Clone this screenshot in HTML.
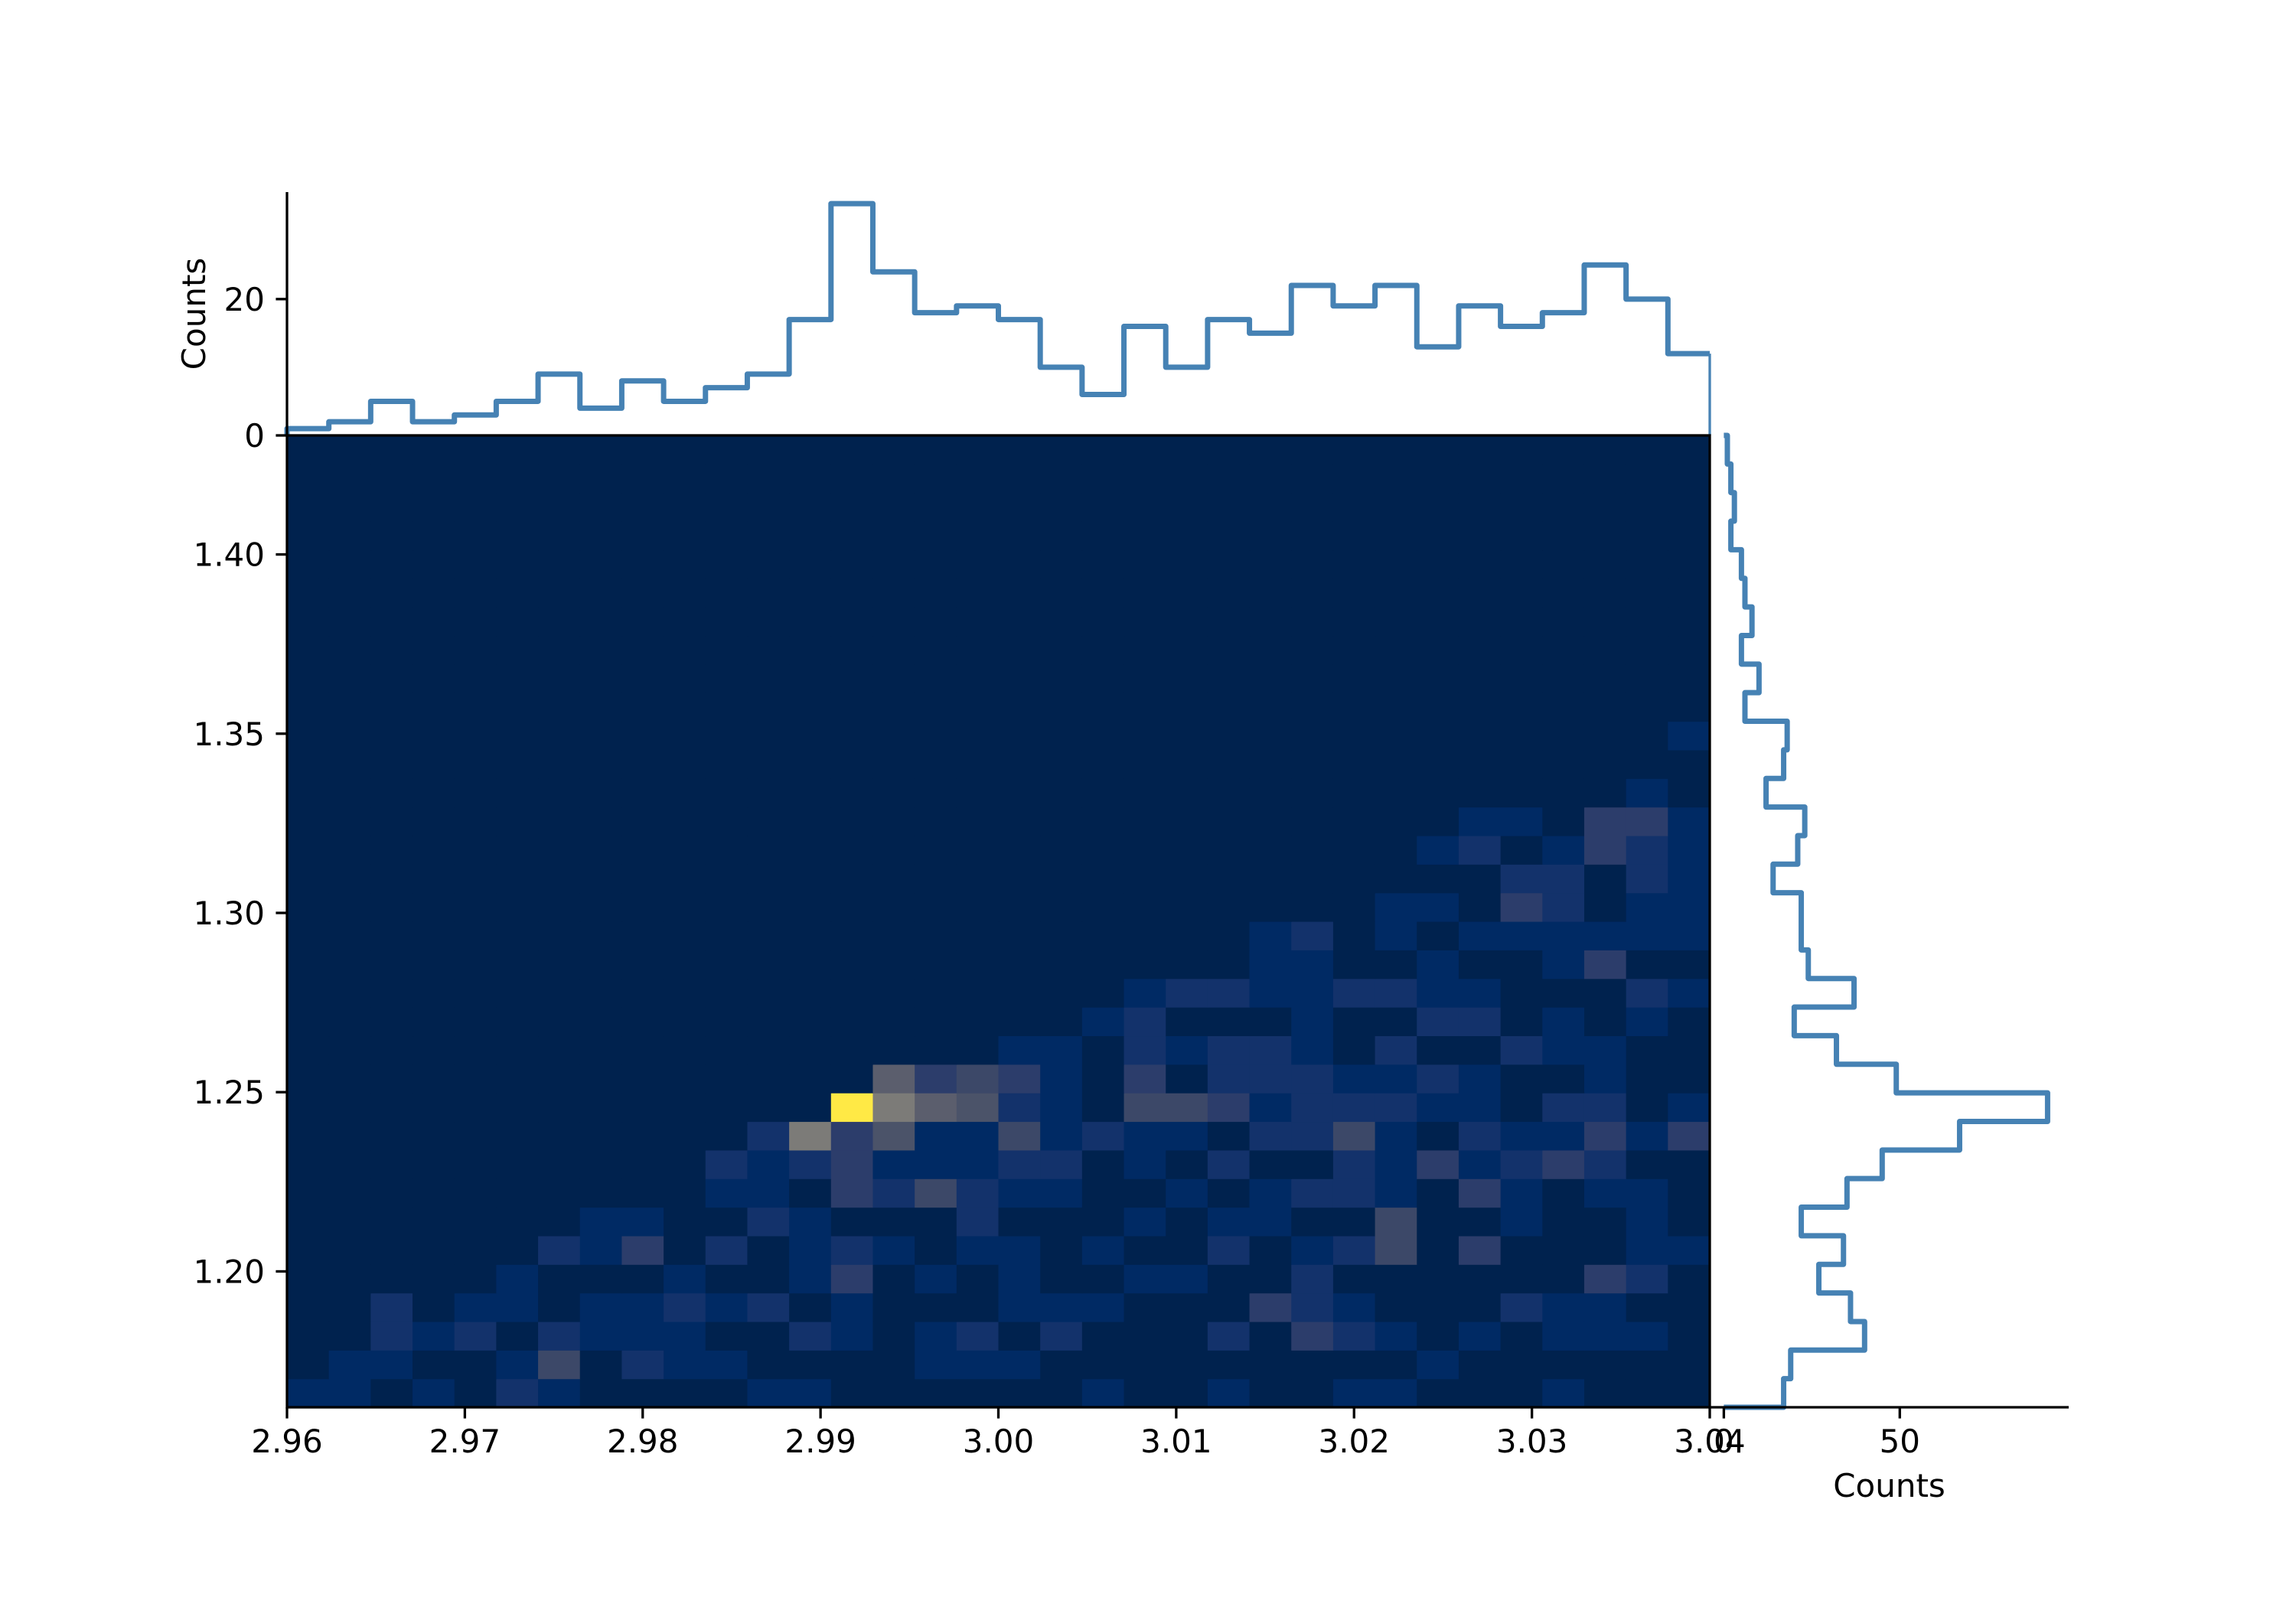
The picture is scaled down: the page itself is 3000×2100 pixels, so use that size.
<!DOCTYPE html>
<html><head><meta charset="utf-8"><style>
html,body{margin:0;padding:0;background:#fff;}
svg{display:block;font-family:"DejaVu Sans","Liberation Sans",sans-serif;}
</style></head><body>
<svg id="chart" width="3000" height="2100" viewBox="0 0 3000 2100" xmlns="http://www.w3.org/2000/svg">
<rect width="3000" height="2100" fill="#fff"/>
<g id="heat"></g>
<g id="axes"></g>
</svg>
<script>
// ---- data ----
const xTickLabels = ["2.96","2.97","2.98","2.99","3.00","3.01","3.02","3.03","3.04"];
const yTickLabels = ["1.20","1.25","1.30","1.35","1.40"];
const topCounts = [1,2,5,2,3,5,9,4,8,5,7,9,17,34,24,18,19,17,10,6,16,10,17,15,22,19,22,13,19,16,18,25,20,12];
const rightCounts = [17,19,40,36,27,34,22,35,45,67,92,49,32,20,37,24,22,22,14,21,23,12,17,18,6,10,5,8,6,5,2,3,2,1];
const heatRows = [
"1101021000011000000100100110001000",
"0110014021100001110000000001000000",
"0021202111002101202000203210101110",
"0020110112120100011100032100021100",
"0000010001001301010011002000000320",
"0000002130201210110100201240300011",
"0000000110021000200010110040010010",
"0000000000110324211001012210310110",
"0000000000212311122010200213123200",
"0000000000027351141211022410211313",
"0000000000000976521044312221102201",
"0000000000000063431030222112100100",
"0000000000000000011021221020021100",
"0000000000000000000120001002201010",
"0000000000000000000012211221100021",
"0000000000000000000000011001001300",
"0000000000000000000000012010111111",
"0000000000000000000000000011032011",
"0000000000000000000000000000022021",
"0000000000000000000000000001201321",
"0000000000000000000000000000110331",
"0000000000000000000000000000000010",
"0000000000000000000000000000000000",
"0000000000000000000000000000000001",
"0000000000000000000000000000000000",
"0000000000000000000000000000000000",
"0000000000000000000000000000000000",
"0000000000000000000000000000000000",
"0000000000000000000000000000000000",
"0000000000000000000000000000000000",
"0000000000000000000000000000000000",
"0000000000000000000000000000000000",
"0000000000000000000000000000000000",
"0000000000000000000000000000000000"
];
const levelColors = ["#00224e","#002a64","#13326b","#2c3d6b","#3c4868","#4b5369","#5b5e6d","#7c7b78","#b0a860","#ffe945"];

// ---- geometry ----
const L=375, R=2234, T=569, B=1839;
const xMin=2.96, xMax=3.04, yMin=1.1621, yMax=1.4332;
const sx = v => L + (v-xMin)/(xMax-xMin)*(R-L);
const sy = v => B - (v-yMin)/(yMax-yMin)*(B-T);
const topTop=251, topMax=35.7;
const sTop = c => T - c/topMax*(T-topTop);
const rR=2703, rMin=-4.0, rMax=98.0;
const sRight = c => R + (c-rMin)/(rMax-rMin)*(rR-R);
const NS="http://www.w3.org/2000/svg";
function mk(tag, attrs, parent){const e=document.createElementNS(NS,tag);for(const k in attrs)e.setAttribute(k,attrs[k]);parent.appendChild(e);return e;}
const heat=document.getElementById('heat'), axes=document.getElementById('axes');
const nCols=heatRows[0].length, nRows=heatRows.length;
const cw=(R-L)/nCols, ch=(B-T)/nRows;
heatRows.forEach((row,r)=>{
  for(let c=0;c<nCols;c++){
    const v=+row[c];
    const cell=mk('rect',{x:(L+c*cw).toFixed(2),y:(B-(r+1)*ch).toFixed(2),width:(cw+0.6).toFixed(2),height:(ch+0.6).toFixed(2),fill:levelColors[Math.min(v,levelColors.length-1)]},heat);
    
    
  }
});
// top histogram
const tw=(R-L)/topCounts.length;
let d=`M${L},${T}`;
topCounts.forEach((c,i)=>{d+=` L${L+i*tw},${sTop(c)} L${L+(i+1)*tw},${sTop(c)}`;});
const th=mk('path',{d:d,fill:'none',stroke:'#4682b4','stroke-width':7,'stroke-linejoin':'round'},axes);


const thEnd=mk('line',{x1:R,y1:sTop(topCounts[topCounts.length-1]),x2:R,y2:T,stroke:'#4682b4','stroke-width':3.3},axes);


// right histogram
const rh=(B-T)/rightCounts.length;
let d2=`M${sRight(0)},${B}`;
rightCounts.forEach((c,i)=>{d2+=` L${sRight(c)},${B-i*rh} L${sRight(c)},${B-(i+1)*rh}`;});
d2+=` L${sRight(0)},${T}`;
const rhp=mk('path',{d:d2,fill:'none',stroke:'#4682b4','stroke-width':7,'stroke-linejoin':'round'},axes);


// spines
const sp=mk('rect',{x:L,y:T,width:R-L,height:B-T,fill:'none',stroke:'#000','stroke-width':3.3},axes);


const tsp=mk('line',{x1:L,y1:topTop,x2:L,y2:T,stroke:'#000','stroke-width':3.3},axes);


const rsp=mk('line',{x1:R,y1:B,x2:rR,y2:B,stroke:'#000','stroke-width':3.3},axes);


// x ticks
xTickLabels.forEach(t=>{
  const x=sx(+t);
  const tk=mk('line',{x1:x,y1:B,x2:x,y2:B+14.6,stroke:'#000','stroke-width':3.3},axes);
  
  
  const tx=mk('text',{x:x,y:1898,'font-size':42,'text-anchor':'middle'},axes);tx.textContent=t;
  
  
});
yTickLabels.forEach(t=>{
  const y=sy(+t);
  const tk=mk('line',{x1:L-14.6,y1:y,x2:L,y2:y,stroke:'#000','stroke-width':3.3},axes);
  
  
  const tx=mk('text',{x:346,y:y+15,'font-size':42,'text-anchor':'end'},axes);tx.textContent=t;
  
  
});
const topTicks=["0","20"];
topTicks.forEach(t=>{
  const y=sTop(+t);
  const tk=mk('line',{x1:L-14.6,y1:y,x2:L,y2:y,stroke:'#000','stroke-width':3.3},axes);
  
  
  const tx=mk('text',{x:346,y:y+15,'font-size':42,'text-anchor':'end'},axes);tx.textContent=t;
  
  
});
const rightTicks=["0","50"];
rightTicks.forEach(t=>{
  const x=sRight(+t);
  const tk=mk('line',{x1:x,y1:B,x2:x,y2:B+14.6,stroke:'#000','stroke-width':3.3},axes);
  
  
  const tx=mk('text',{x:x,y:1898,'font-size':42,'text-anchor':'middle'},axes);tx.textContent=t;
  
  
});
const yl=mk('text',{x:0,y:0,'font-size':42,'text-anchor':'middle',transform:`translate(268,${(topTop+T)/2}) rotate(-90)`},axes);
yl.textContent='Counts';


const xl=mk('text',{x:(R+rR)/2,y:1956,'font-size':42,'text-anchor':'middle'},axes);
xl.textContent='Counts';


</script>
</body></html>
